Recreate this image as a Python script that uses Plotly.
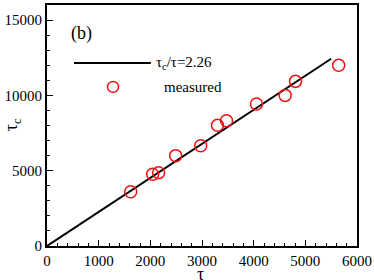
import plotly.graph_objects as go

tau = [1620, 2045, 2160, 2490, 2975, 3300, 3475, 4055, 4610, 4810, 5645]
tau_c = [3600, 4760, 4870, 6000, 6650, 8010, 8320, 9430, 10000, 10930, 12000]
slope = 2.26
fit_x = [0, 5500]
fit_y = [v * slope for v in fit_x]

FONT = "Liberation Serif, Times New Roman, serif"

fig = go.Figure()
fig.add_trace(go.Scatter(x=fit_x, y=fit_y, mode="lines",
                         line=dict(color="black", width=2), showlegend=False))
fig.add_trace(go.Scatter(x=tau, y=tau_c, mode="markers",
                         marker=dict(symbol="circle-open", size=12, color="#ee1111",
                                     line=dict(width=1.5, color="#ee1111")),
                         showlegend=False))

axis_common = dict(showgrid=False, zeroline=False, showline=True, linecolor="black",
                   linewidth=2, mirror=True, ticks="inside", ticklen=6, tickwidth=1.2,
                   tickcolor="black", tickformat="d", automargin=False,
                   tickfont=dict(family=FONT, size=15, color="black"))

fig.update_xaxes(range=[0, 6000], dtick=1000,
                 minor=dict(dtick=200, ticks="inside", ticklen=3, tickcolor="black", tickwidth=1),
                 **axis_common)
fig.update_yaxes(range=[0, 16000], dtick=5000,
                 minor=dict(dtick=1000, ticks="inside", ticklen=3, tickcolor="black", tickwidth=1),
                 **axis_common)

# axis titles
fig.add_annotation(xref="paper", yref="paper", x=-0.112, y=0.502, textangle=-90,
                   xanchor="center", yanchor="middle", showarrow=False,
                   text="τ<sub>c</sub>", font=dict(family=FONT, size=18, color="black"))
fig.add_annotation(xref="paper", yref="paper", x=0.494, y=-0.118,
                   xanchor="center", yanchor="middle", showarrow=False,
                   text="τ", font=dict(family=FONT, size=18, color="black"))

# manual legend
fig.add_shape(type="line", xref="paper", yref="paper", x0=0.087, x1=0.335, y0=0.759, y1=0.759,
              line=dict(color="black", width=2))
fig.add_shape(type="circle", xref="paper", yref="paper", xsizemode="pixel", ysizemode="pixel",
              xanchor=0.213, yanchor=0.66, x0=-5.5, x1=5.5, y0=-5.5, y1=5.5,
              line=dict(color="#ee1111", width=1.5))
fig.add_annotation(xref="paper", yref="paper", x=0.345, y=0.759, xanchor="left", yanchor="middle",
                   text="τ<sub>c</sub>/τ=2.26", showarrow=False,
                   font=dict(family=FONT, size=15, color="black"))
fig.add_annotation(xref="paper", yref="paper", x=0.372, y=0.66, xanchor="left", yanchor="middle",
                   text="measured", showarrow=False,
                   font=dict(family=FONT, size=15, color="black"))
fig.add_annotation(xref="paper", yref="paper", x=0.072, y=0.88, xanchor="left", yanchor="middle",
                   text="(b)", showarrow=False,
                   font=dict(family=FONT, size=18, color="black"))

fig.update_layout(width=374, height=280, margin=dict(l=47, r=17, t=5, b=34),
                  plot_bgcolor="white", paper_bgcolor="white",
                  font=dict(family=FONT, color="black"))
fig.write_html("out.html", config={"displayModeBar": False},
               post_script="document.body.style.margin='0';")
